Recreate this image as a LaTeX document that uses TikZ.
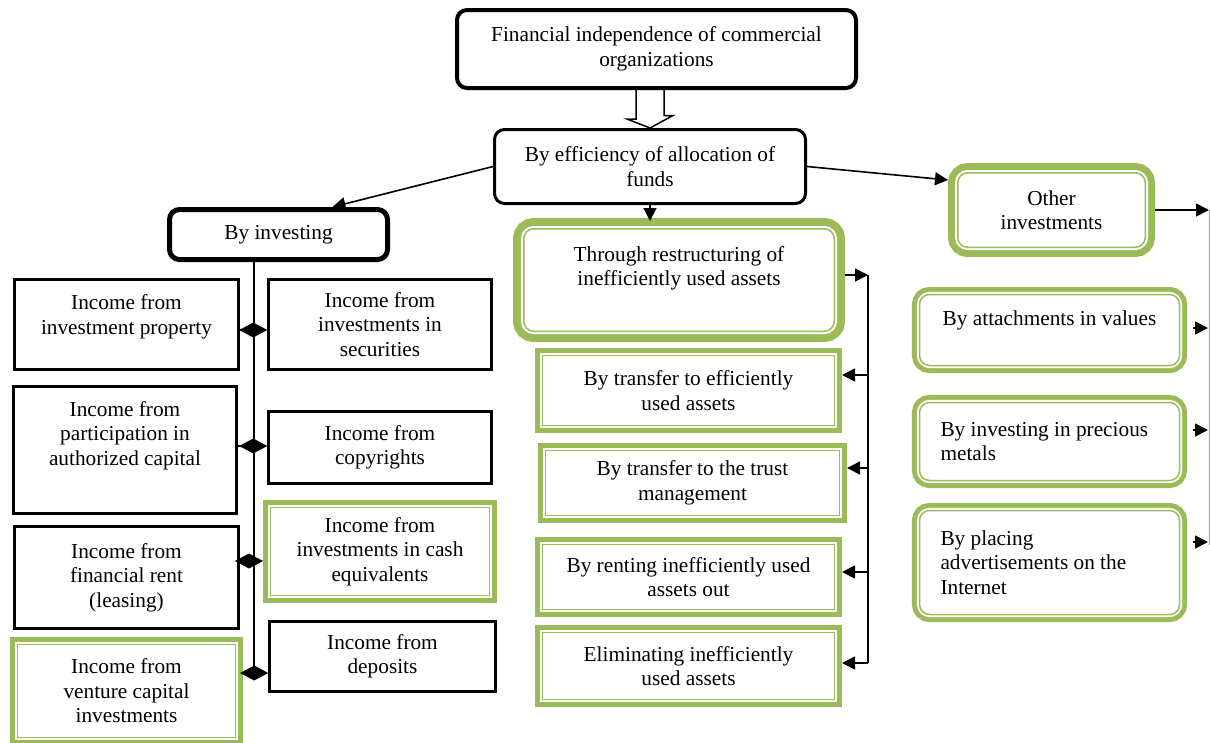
\documentclass[tikz,border=0pt]{standalone}
\usepackage{fontspec}
\setmainfont{Liberation Serif}
\usetikzlibrary{arrows.meta}
\definecolor{leafgreen}{RGB}{155,187,89}
\definecolor{railgray}{RGB}{160,160,160}
\tikzset{
	txt/.style={font=\fontsize{21.3}{24.5}\selectfont, align=center, inner sep=1pt},
	wh/.style 2 args={minimum width=#1pt, minimum height=#2pt},
	blackbox/.style={txt, draw, line width=2.6pt},
	roundbox/.style={txt, draw, rounded corners=10pt},
	gframe/.style 2 args={txt, fill=white, draw=leafgreen, line width=1.5pt,
		preaction={draw=leafgreen, line width=#1}, preaction={draw=white, line width=#2}},
	greenbox/.style={gframe={15.2pt}{5.2pt}, outer sep=7.6pt},
	greenround/.style 2 args={gframe={#1}{#2}, rounded corners=10pt},
	link/.style={line width=1.6pt, -{Triangle[length=13pt,width=13pt]}},
	dia/.style={line width=1.6pt, -{Diamond[length=28pt,width=15pt]}},
}
\begin{document}
\begin{tikzpicture}[x=1pt, y=-1pt]
	\useasboundingbox (0,0) rectangle (1210,742);
	% top levels
	\node[roundbox, line width=4pt, wh={399}{78}] (top) at (656.5,49) {Financial independence of commercial\\organizations};
	\node[roundbox, line width=3pt, wh={311}{74}] (eff) at (650,166.5) {By efficiency of allocation of\\funds};
	\draw[line width=1.5pt] (eff.north |- top.south) ++(-14,0) -- ++(0,29) -- ++(-9,0) -- (eff.north) -- ++(23,-12.5) -- ++(-9,0) -- ++(0,-29);
	\node[roundbox, line width=5pt, wh={218}{50}] (inv) at (278.5,234.5) {By investing};
	\node[greenround={21.5pt}{5.5pt}, outer sep=10.75pt, wh={310.5}{102.5}, text depth=28.5pt] (restr) at (679,280) {Through restructuring of\\inefficiently used assets};
	\node[greenround={19.5pt}{5.5pt}, outer sep=9.75pt, wh={187.5}{74.5}] (other) at (1051.5,210) {Other\\investments};
	% by investing
	\node[blackbox, wh={224}{90}, text depth=20pt] (prop) at (126.5,324.5) {Income from\\investment property};
	\node[blackbox, wh={223}{90}] (secur) at (380,324.5) {Income from\\investments in\\securities};
	\node[blackbox, wh={223}{127}, text depth=34pt] (share) at (125,450) {Income from\\participation in\\authorized capital};
	\node[blackbox, wh={223}{72}] (copy) at (380,447.5) {Income from\\copyrights};
	\node[blackbox, wh={224}{102}] (lease) at (126.5,577.5) {Income from\\financial rent\\(leasing)};
	\node[greenbox, wh={218.8}{87.8}] (cash) at (380,551.5) {Income from\\investments in cash\\equivalents};
	\node[greenbox, wh={217.8}{92.8}] (venture) at (126.5,691) {Income from\\venture capital\\investments};
	\node[blackbox, wh={226}{70}] (depo) at (382.5,656.5) {Income from\\deposits};
	% restructuring
	\node[greenbox, wh={291.8}{69.8}] (effic) at (688.5,390.5) {By transfer to efficiently\\used assets};
	\node[greenbox, wh={293.8}{64.8}] (trust) at (692.5,483) {By transfer to the trust\\management};
	\node[greenbox, wh={291.8}{64.8}] (rent) at (688.5,577) {By renting inefficiently used\\assets out};
	\node[greenbox, wh={291.8}{66.8}] (elim) at (688.5,666) {Eliminating inefficiently\\used assets};
	% other investments
	\node[greenround={15.1pt}{5.1pt}, outer sep=7.55pt, wh={260}{71}, text depth=24pt] (values) at (1049.5,330) {By attachments in values};
	\node[greenround={15.1pt}{5.1pt}, outer sep=7.55pt, wh={260}{78}, text width=218pt, align=flush left] (metals) at (1049.5,441.5) {By investing in precious\\metals};
	\node[greenround={15.1pt}{5.1pt}, outer sep=7.55pt, wh={260}{104}, text width=218pt, align=flush left] (adverts) at (1049.5,562.5) {By placing\\advertisements on the\\Internet};
	% connectors
	\draw[link] (eff.west) -- ([xshift=54pt]inv.north);
	\draw[link] (eff.east) -- ([yshift=-17pt]other.north west);
	\draw[link] (eff.south) -- ([yshift=-3pt]eff.south |- restr.north);
	\coordinate (trunk) at (254,680);
	\draw[line width=1.6pt] (inv.south -| trunk) -- (trunk);
	\foreach \a/\b/\y in {prop/secur/330, share/copy/446, lease/cash/561, venture/depo/673}
		\draw[dia] (\a.east |- 0,\y) -- (\b.west |- 0,\y);
	\coordinate (bus) at (868,275);
	\coordinate (busend) at (868,663);
	\draw[link] (restr.east |- bus) -- (bus);
	\draw[line width=1.6pt] (bus) -- (busend);
	\foreach \n/\y in {effic/375, trust/468, rent/572, elim/663}
		\draw[link] (bus |- 0,\y) -- (\n.east |- 0,\y);
	\coordinate (rail) at (1209,210);
	\draw[link] (other.east) -- (rail);
	\draw[railgray, line width=1pt] (rail) -- (rail |- 0,545);
	\foreach \n/\y in {values/328, metals/430, adverts/542}
		\draw[link, shorten <=6pt] (\n.east |- 0,\y) -- ([xshift=-1pt]rail |- 0,\y);
\end{tikzpicture}
\end{document}
